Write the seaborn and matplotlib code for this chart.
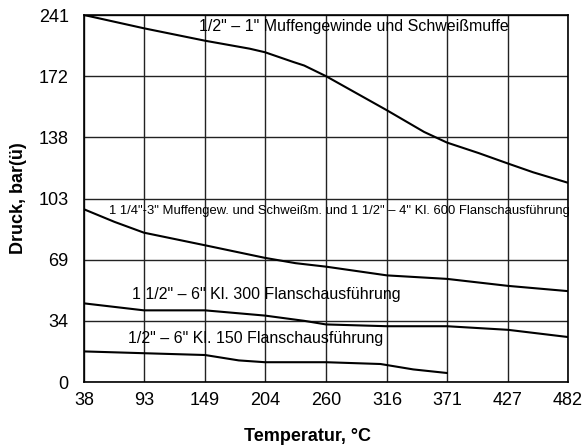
import numpy as np
import pandas as pd
import matplotlib
matplotlib.use("Agg")
import matplotlib.pyplot as plt
import seaborn as sns

# Data (temperature in °C, pressure in bar(ü))
t_top = [38, 93, 149, 190, 204, 230, 240, 260, 316, 350, 371, 400, 427, 450, 482]
p_top = [241, 226, 212, 203, 199, 188, 184, 172, 153, 141, 135, 129, 123, 118, 112]

t_600 = [38, 66, 93, 149, 204, 232, 260, 316, 371, 427, 482]
p_600 = [97, 90, 84, 77, 70, 67, 65, 60, 58, 54, 51]

t_300 = [38, 93, 149, 204, 240, 260, 316, 371, 427, 482]
p_300 = [44, 40, 40, 37, 34, 32, 31, 31, 29, 25]

t_150 = [38, 93, 149, 180, 204, 260, 310, 340, 371]
p_150 = [17, 16, 15, 12, 11, 11, 10, 7, 5]

x_ticks = [38, 93, 149, 204, 260, 316, 371, 427, 482]
y_ticks = [0, 34, 69, 103, 138, 172, 241]

labels = [
    '1/2" – 1" Muffengewinde und Schweißmuffe',
    '1 1/4"-3" Muffengew. und Schweißm. und 1 1/2" – 4" Kl. 600 Flanschausführung',
    '1 1/2" – 6" Kl. 300 Flanschausführung',
    '1/2" – 6" Kl. 150 Flanschausführung',
]

sns.set_theme(style="white")
plt.rcParams['font.family'] = ['Liberation Sans', 'DejaVu Sans']
plt.rcParams['text.color'] = 'black'
plt.rcParams['axes.labelcolor'] = 'black'

fig = plt.figure(figsize=(5.85, 4.48), dpi=100)
ax = fig.add_axes([84/585, 66/448, (568-84)/585, (382-15)/448])

pos = np.arange(len(y_ticks), dtype=float)
yt = np.array(y_ticks, dtype=float)

def fwd(v):
    return np.interp(v, yt, pos)

def inv(p):
    return np.interp(p, pos, yt)

ax.set_yscale('function', functions=(fwd, inv))

for t, p in [(t_top, p_top), (t_600, p_600), (t_300, p_300), (t_150, p_150)]:
    sns.lineplot(x=t, y=p, ax=ax, color='black', linewidth=1.5)

ax.set_xlim(38, 482)
ax.set_ylim(0, 241)
ax.set_xticks(x_ticks)
ax.set_xticklabels([str(v) for v in x_ticks])
ax.set_yticks(y_ticks)
ax.set_yticklabels([str(v) for v in y_ticks])
ax.tick_params(axis='both', length=0, labelsize=13, colors='black')
ax.tick_params(axis='x', pad=7)
ax.tick_params(axis='y', pad=11)
ax.grid(True, color='#222222', linewidth=1.0)
ax.set_axisbelow(True)
for s in ax.spines.values():
    s.set_color('black')
    s.set_linewidth(1.2)

ax.set_xlabel('')
ax.set_ylabel('')
fig.text(307/585, (448-436)/448, 'Temperatur, °C', fontsize=13, fontweight='bold',
         ha='center', va='center', color='black')
fig.text(19/585, (448-198)/448, 'Druck, bar(ü)', fontsize=13, fontweight='bold',
         ha='center', va='center', rotation=90, color='black')

def px2t(px):
    return 38 + (px - 84) * 444 / 484

ax.text(px2t(199), 222.9, labels[0], fontsize=11.5, va='baseline', ha='left', color='black')
ax.text(px2t(109), 94.4, labels[1], fontsize=9.4, va='baseline', ha='left', color='black')
ax.text(px2t(132), 46.5, labels[2], fontsize=11.5, va='baseline', ha='left', color='black')
ax.text(px2t(128), 21.7, labels[3], fontsize=11.5, va='baseline', ha='left', color='black')

fig.savefig('out.png', dpi=100)
